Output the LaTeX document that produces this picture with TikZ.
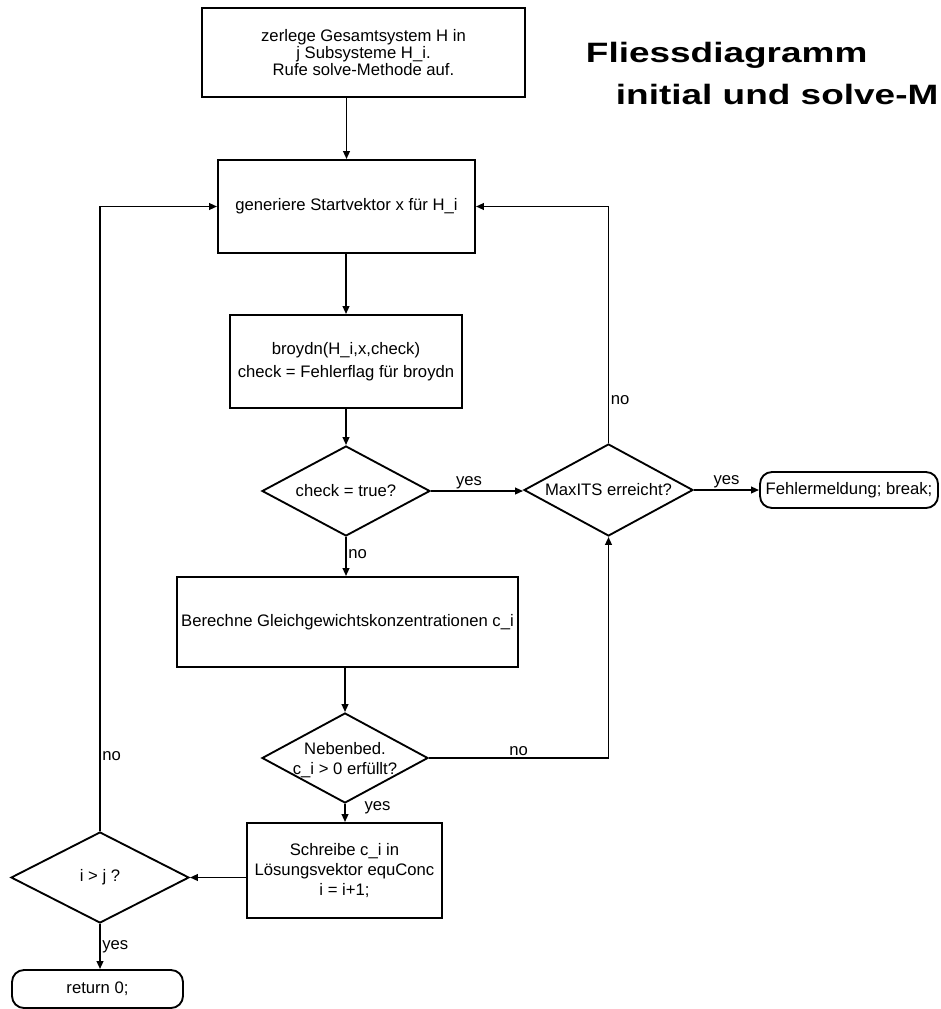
\documentclass[tikz,border=0pt]{standalone}
\usepackage{fontspec}
\setmainfont{Liberation Sans}
\newfontfamily\titlefont[FakeStretch=1.32]{Liberation Sans Bold}
\usetikzlibrary{shapes.geometric,arrows.meta}
\begin{document}
\begin{tikzpicture}[x=0.75pt,y=-0.75pt,
  every node/.style={font=\fontsize{12.5}{13}\selectfont},
  line width=1.4pt,
  stepbox/.style={draw,rectangle,inner sep=2pt,align=center},
  decbox/.style={draw,diamond,inner sep=0pt},
  dectext/.style={inner sep=0pt,align=center},
  termbox/.style={draw,rectangle,rounded corners=9pt,inner sep=2pt,align=center},
  arr/.style={-{Triangle[length=6pt,width=5pt]}},
  lbl/.style={inner sep=1pt},
  titletext/.style={anchor=base west,inner sep=0,font=\titlefont\fontsize{21}{21}\selectfont}]
\useasboundingbox (0,0) rectangle (940,1009);
% title
\node[titletext] (t1) at (585,63) {Fliessdiagramm};
\node[titletext] (t2) at (615,105) {initial und solve-M};
% process boxes
\node[stepbox,minimum width=242.25pt,minimum height=66.75pt] (b1) at (363.5,52.5)
  {zerlege Gesamtsystem H in\\ j Subsysteme H\_i.\\ Rufe solve-Methode auf.};
\node[stepbox,minimum width=192.75pt,minimum height=69.75pt] (b2) at (346.5,206.5)
  {generiere Startvektor x für H\_i};
\node[stepbox,minimum width=174pt,minimum height=69.75pt] (b3) at (346,361.5)
  {broydn(H\_i,x,check)\\[4pt] check = Fehlerflag für broydn};
\node[stepbox,minimum width=255.75pt,minimum height=67.5pt] (b4) at (347.5,622)
  {Berechne Gleichgewichtskonzentrationen c\_i};
\node[stepbox,minimum width=146.25pt,minimum height=71.25pt] (b5) at (344.5,870.5)
  {Schreibe c\_i in\\[2pt] Lösungsvektor equConc\\[2pt] i = i+1;};
% decisions
\node[decbox,minimum width=126pt,minimum height=67.5pt] (check) at (346,491) {};
\node[dectext] (checkt) at (check.center) {check = true?};
\node[decbox,minimum width=126.75pt,minimum height=69pt] (max) at (608.5,490) {};
\node[dectext] (maxt) at (max.center) {MaxITS erreicht?};
\node[decbox,minimum width=124.5pt,minimum height=67.5pt] (neb) at (345,758) {};
\node[dectext] (nebt) at (345,760) {Nebenbed.\\[2pt] c\_i > 0 erfüllt?};
\node[decbox,minimum width=133.5pt,minimum height=68.25pt] (ij) at (100,877.5) {};
\node[dectext] (ijt) at (ij.center) {i > j ?};
% terminals
\node[termbox,minimum width=133.5pt,minimum height=27pt] (fehl) at (849,490)
  {Fehlermeldung; break;};
\node[termbox,minimum width=128.25pt,minimum height=28.5pt] (ret) at (97.5,989)
  {return 0;};
% connectors
\draw[arr] (b1.south -| b2.north) -- (b2.north);
\draw[arr] (b2.south -| b3.north) -- (b3.north);
\draw[arr] (b3.south) -- (check.north);
\draw[arr] (check.east) -- node[lbl,above,xshift=-6pt] {yes} (check.east -| max.west);
\draw[arr] (check.south) -- node[lbl,right,pos=0.45] {no} (check.south |- b4.north);
\draw[arr] (max.north) |- node[lbl,right,pos=0.09] {no} (b2.east);
\draw[arr] (max.east) -- node[lbl,above] {yes} (fehl.west);
\draw[arr] (b4.south -| neb.north) -- (neb.north);
\draw[arr] (neb.east) -| node[lbl,above,pos=0.25] {no} (max.south);
\draw[arr] (neb.south) -- node[lbl,right,xshift=13pt,yshift=4pt] {yes} (neb.south |- b5.north);
\draw[arr] (ij.east -| b5.west) -- (ij.east);
\draw[arr] (ij.north) |- node[lbl,right,pos=0.06] {no} (b2.west);
\draw[arr] (ij.south) -- node[lbl,right] {yes} (ij.south |- ret.north);
\end{tikzpicture}
\end{document}
